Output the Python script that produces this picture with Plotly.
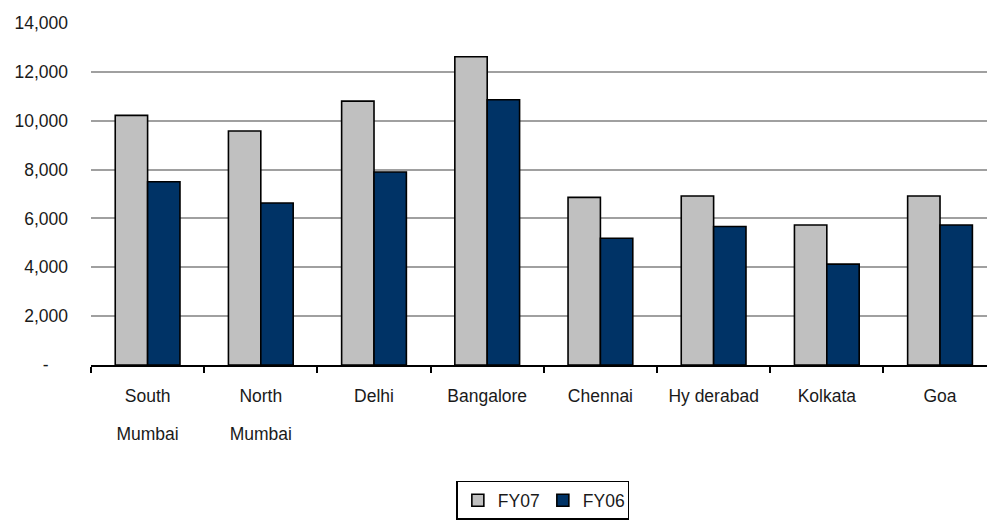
import plotly.graph_objects as go

# Average rates by city, FY07 vs FY06
cities = ["South", "North", "Delhi", "Bangalore", "Chennai", "Hy derabad", "Kolkata", "Goa"]
city_second_line = ["Mumbai", "Mumbai", "", "", "", "", "", ""]
fy07 = [10220, 9580, 10800, 12620, 6860, 6920, 5730, 6920]
fy06 = [7500, 6630, 7900, 10860, 5190, 5670, 4130, 5730]

y_ticks = [0, 2000, 4000, 6000, 8000, 10000, 12000, 14000]
y_tick_text = ["-\u00a0\u00a0\u00a0\u00a0", "2,000", "4,000", "6,000", "8,000", "10,000", "12,000", "14,000"]

FONT = "Liberation Sans, Arial, sans-serif"
FS = 17.5
x_range = [-0.5, 7.415]

fig = go.Figure()
fig.add_trace(go.Bar(
    name="FY07", x=cities, y=fy07,
    marker=dict(color="#c0c0c0", line=dict(color="#000000", width=1.6)),
))
fig.add_trace(go.Bar(
    name="FY06", x=cities, y=fy06,
    marker=dict(color="#003366", line=dict(color="#000000", width=1.6)),
))
# second line of the city names, on an overlaid axis
fig.add_trace(go.Scatter(x=[], y=[], xaxis="x2", showlegend=False, hoverinfo="skip"))

fig.update_layout(
    width=987, height=521,
    margin=dict(l=91, r=0, t=23, b=156),
    paper_bgcolor="white", plot_bgcolor="white",
    font=dict(family=FONT, size=FS, color="#1a1a1a"),
    barmode="group", bargap=0.428, bargroupgap=0,
    showlegend=True,
    legend=dict(
        orientation="h",
        xref="container", yref="container",
        x=0.55, xanchor="center", y=0.077, yanchor="top",
        bordercolor="#000000", borderwidth=1.5,
        font=dict(family=FONT, size=FS, color="#1a1a1a"),
        itemwidth=30, tracegroupgap=0,
        entrywidth=40, entrywidthmode="pixels",
    ),
    xaxis=dict(
        type="category", range=x_range,
        showline=True, linecolor="#000000", linewidth=2,
        ticks="outside", tickson="boundaries", ticklen=6, tickwidth=1.5, tickcolor="#000000",
        showgrid=False, zeroline=False,
        ticklabelstandoff=14,
    ),
    xaxis2=dict(
        overlaying="x", anchor="y", side="bottom", type="linear",
        range=x_range, tickmode="array",
        tickvals=list(range(len(cities))), ticktext=city_second_line,
        showline=False, showgrid=False, zeroline=False, ticks="",
        ticklabelstandoff=56,
    ),
    yaxis=dict(
        range=[0, 14000], tickmode="array", tickvals=y_ticks, ticktext=y_tick_text,
        showgrid=True, gridcolor="#a0a0a0", gridwidth=1.5,
        showline=False, zeroline=False, ticks="",
        ticklabelstandoff=22,
    ),
)

fig.write_html("out.html")
